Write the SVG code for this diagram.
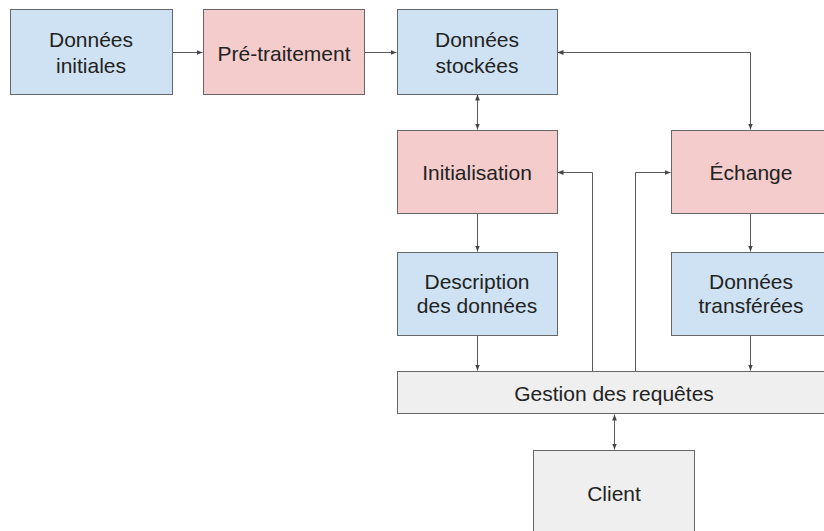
<svg xmlns="http://www.w3.org/2000/svg" width="824" height="531" viewBox="0 0 824 531">
<style>
.box{stroke:#666;stroke-width:1}
.blue{fill:#cfe2f3}.red{fill:#f4cccc}.grey{fill:#efefef}
text{font-family:"Liberation Sans",Arial,sans-serif;font-size:21px;fill:#222;text-anchor:middle}
.c{fill:none;stroke:#595959;stroke-width:1}
</style>
<defs>
<marker id="ah" viewBox="0 0 10 10" refX="10" refY="5" markerWidth="6" markerHeight="6" orient="auto-start-reverse" markerUnits="userSpaceOnUse">
<path d="M0,1 L10,5 L0,9 z" fill="#444"/>
</marker>
</defs>
<rect width="824" height="531" fill="#fff"/>
<g id="connectors">
<path class="c" d="M172.5,52.5 H202.5" marker-end="url(#ah)"/>
<path class="c" d="M364.5,52.5 H396.5" marker-end="url(#ah)"/>
<path class="c" d="M557.5,52.5 H750.5 V129.5" marker-start="url(#ah)" marker-end="url(#ah)"/>
<path class="c" d="M477.5,94.5 V129.5" marker-start="url(#ah)" marker-end="url(#ah)"/>
<path class="c" d="M477.5,213.5 V251.5" marker-end="url(#ah)"/>
<path class="c" d="M750.5,213.5 V251.5" marker-end="url(#ah)"/>
<path class="c" d="M477.5,335.5 V370.5" marker-end="url(#ah)"/>
<path class="c" d="M750.5,335.5 V370.5" marker-end="url(#ah)"/>
<path class="c" d="M592.5,371 V172.5 H557.5" marker-end="url(#ah)"/>
<path class="c" d="M635.5,371 V172.5 H670.5" marker-end="url(#ah)"/>
<path class="c" d="M614.5,414.5 V449.5" marker-start="url(#ah)" marker-end="url(#ah)"/>
</g>
<g id="donnees-initiales"><rect class="box blue" x="10.5" y="9.5" width="162" height="85"/><text x="91" y="47">Données</text><text x="91" y="73">initiales</text></g>
<g id="pre-traitement"><rect class="box red" x="203.5" y="9.5" width="161" height="85"/><text x="284" y="61">Pré-traitement</text></g>
<g id="donnees-stockees"><rect class="box blue" x="397.5" y="9.5" width="160" height="85"/><text x="477" y="47">Données</text><text x="477" y="73">stockées</text></g>
<g id="initialisation"><rect class="box red" x="397.5" y="130.5" width="160" height="83"/><text x="477" y="180">Initialisation</text></g>
<g id="echange"><rect class="box red" x="671.5" y="130.5" width="162" height="83"/><text x="751" y="180">Échange</text></g>
<g id="description"><rect class="box blue" x="397.5" y="252.5" width="160" height="83"/><text x="477" y="289">Description</text><text x="477" y="313">des données</text></g>
<g id="donnees-transferees"><rect class="box blue" x="671.5" y="252.5" width="162" height="83"/><text x="751" y="289">Données</text><text x="751" y="313">transférées</text></g>
<g id="gestion"><rect class="box grey" x="397.5" y="371.5" width="436" height="42"/><text x="614" y="401">Gestion des requêtes</text></g>
<g id="client"><rect class="box grey" x="533.5" y="450.5" width="161" height="84"/><text x="614" y="501">Client</text></g>
</svg>
